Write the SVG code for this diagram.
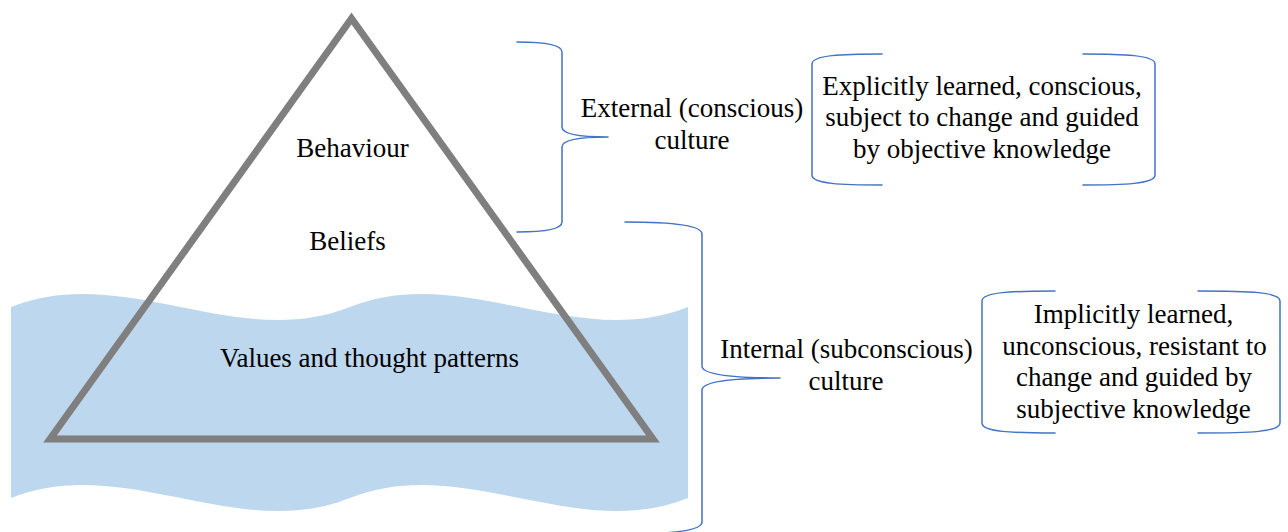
<svg xmlns="http://www.w3.org/2000/svg" width="1288" height="532" viewBox="0 0 1288 532">
  <style>
    .lbl { font-family: "Liberation Serif", "Times New Roman", serif; font-size: 27px; fill: #000; text-anchor: middle; }
    .brace { fill: none; stroke: #4472C4; stroke-width: 1.5; stroke-linecap: round; stroke-linejoin: round; }
    .water { fill: #BDD7EE; stroke: none; }
    .tri { fill: none; stroke: #7F7F7F; stroke-width: 7; stroke-linejoin: miter; }
  </style>
  <rect width="1288" height="532" fill="#FFFFFF"/>

  <!-- water band (double wave) -->
  <g id="water">
    <path class="water" d="M11,307 C124,262 237,352 350,307 C463,262 576,352 688,307 L688,498 C576,543 463,453 350,498 C237,543 124,453 11,498 Z"/>
  </g>

  <!-- iceberg triangle -->
  <g id="iceberg">
    <path class="tri" d="M351.5,18.5 L653,439 L50,439 Z"/>
  </g>

  <g id="layer-behaviour">
    <text class="lbl" x="352.5" y="157">Behaviour</text>
  </g>
  <g id="layer-beliefs">
    <text class="lbl" x="347.5" y="250">Beliefs</text>
  </g>
  <g id="layer-values">
    <text class="lbl" x="369.5" y="367">Values and thought patterns</text>
  </g>

  <!-- braces grouping the layers -->
  <g id="connectors">
    <path class="brace" d="M517,42 C542,42 562,44 562,52 L562,127 C562,133 576,137 608,137 C576,137 562,141 562,147 L562,222 C562,230 542,232 517,232"/>
    <path class="brace" d="M625,222 C670,222 702,225 702,234 L702,366 C702,373 722,378 780,378 C722,378 702,383 702,390 L702,522 C702,531 670,534 625,534"/>
  </g>

  <g id="external-culture">
    <text class="lbl" x="692" y="116.5">External (conscious)</text>
    <text class="lbl" x="692" y="149">culture</text>
  </g>
  <g id="internal-culture">
    <text class="lbl" x="846.5" y="357.5">Internal (subconscious)</text>
    <text class="lbl" x="846" y="390">culture</text>
  </g>

  <!-- bracketed descriptions -->
  <g id="explicit-box">
    <path class="brace" d="M882,54 C842,54 812,55 812,64 L812,175 C812,184 842,185 882,185"/>
    <path class="brace" d="M1083,54 C1123,54 1155,55 1155,64 L1155,175 C1155,184 1123,185 1083,185"/>
    <text class="lbl" x="982" y="94.5">Explicitly learned, conscious,</text>
    <text class="lbl" x="982" y="126">subject to change and guided</text>
    <text class="lbl" x="982" y="157.5">by objective knowledge</text>
  </g>
  <g id="implicit-box">
    <path class="brace" d="M1055,291 C1012,291 982,292 982,301 L982,423 C982,432 1012,433 1055,433"/>
    <path class="brace" d="M1198,291 C1250,291 1280,292 1280,301 L1280,423 C1280,432 1250,433 1198,433"/>
    <text class="lbl" x="1133.5" y="323">Implicitly learned,</text>
    <text class="lbl" x="1134.5" y="354.5">unconscious, resistant to</text>
    <text class="lbl" x="1134" y="386">change and guided by</text>
    <text class="lbl" x="1133.5" y="417.5">subjective knowledge</text>
  </g>
</svg>
